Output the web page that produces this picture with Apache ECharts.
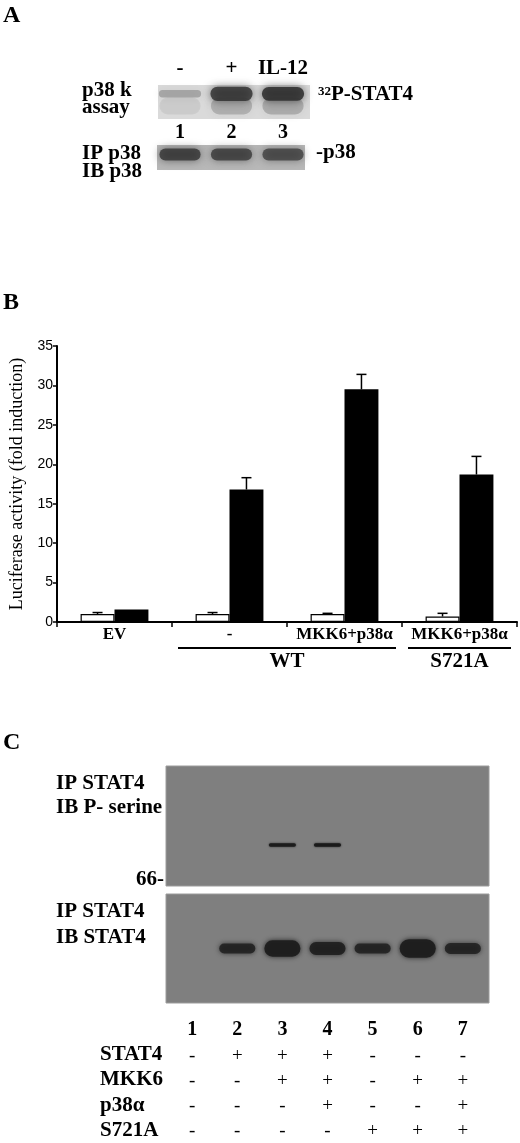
<!DOCTYPE html>
<html><head><meta charset="utf-8">
<script src="https://cdn.jsdelivr.net/npm/echarts@6/dist/echarts.min.js"></script>
<style>html,body{margin:0;padding:0;background:#fff}#c{width:520px;height:1143px}</style>
</head><body><div id="c"></div>
<script>
// ---- Panel B data ----
const categories = ['EV', '-', 'MKK6+p38α', 'MKK6+p38α'];
const controlValues = [1.0, 1.0, 1.0, 0.7];
const controlErrors = [0.2, 0.2, 0.1, 0.4];
const stat4Values = [1.6, 16.8, 29.5, 18.7];
const stat4Errors = [0, 1.5, 1.9, 2.3];
const yMin = 0, yMax = 35, yInterval = 5;
const groupNames = ['WT', 'S721A'];
const groupSpans = [[1, 2], [3, 3]];

// ---- Panel A data ----
const panelALanes = ['-', '+', 'IL-12'];
const panelALaneNumbers = ['1', '2', '3'];
const kinaseSignal = [0.28, 0.8, 0.85];
const kinaseThickness = [0.22, 0.42, 0.4];
const p38Signal = [0.8, 0.75, 0.7];

// ---- Panel C data ----
const panelCLaneNumbers = ['1', '2', '3', '4', '5', '6', '7'];
const pSerineSignal = [0, 0, 0.9, 0.95, 0, 0, 0];
const stat4BlotSignal = [0, 0.85, 0.95, 0.9, 0.85, 0.95, 0.85];
const stat4BandThickness = [0, 0.09, 0.15, 0.12, 0.09, 0.17, 0.10];
const tableRows = ['STAT4', 'MKK6', 'p38α', 'S721A'];
const tableSigns = [
  ['-', '+', '+', '+', '-', '-', '-'],
  ['-', '-', '+', '+', '-', '+', '+'],
  ['-', '-', '-', '+', '-', '-', '+'],
  ['-', '-', '-', '-', '+', '+', '+']
];

const SERIF = '"Liberation Serif", "Times New Roman", serif';
const B21 = 'bold 21px ' + SERIF;

function txt(text, x, y, font, align) {
  return { type: 'text', x: x, y: y, silent: true,
    style: { text: text, font: font, fill: '#000', align: align || 'left', verticalAlign: 'middle',
             textAlign: align || 'left', textVerticalAlign: 'middle' } };
}

function bandRenderer(pos, widthUnits, rgb, blur) {
  return function (params, api) {
    const lane = api.value(0), inten = api.value(1), thick = api.value(2);
    if (!inten) return;
    const c = api.coord([lane, pos]);
    const w = api.size([widthUnits, 0])[0];
    const h = api.size([0, thick])[1];
    return { type: 'rect',
      shape: { x: c[0] - w / 2, y: c[1] - h / 2, width: w, height: h, r: Math.min(h / 2, w / 2) },
      style: { fill: 'rgba(' + rgb + ',' + inten + ')', shadowBlur: blur, shadowColor: 'rgba(' + rgb + ',' + inten + ')' } };
  };
}

const chart = echarts.init(document.getElementById('c'), null, { renderer: 'canvas' });

const barFrac = (1 - 0.41) / 2;

const option = {
  animation: false,
  backgroundColor: '#fff',
  grid: [
    { left: 158, top: 85, width: 152, height: 34, show: true, backgroundColor: '#dadada', borderWidth: 0 },
    { left: 157, top: 145, width: 148, height: 25, show: true, backgroundColor: '#b8b8b8', borderWidth: 0 },
    { left: 55, top: 346, width: 462, height: 276 },
    { left: 166, top: 766, width: 323, height: 120, show: true, backgroundColor: '#7f7f7f', borderColor: '#9c9c9c', borderWidth: 1 },
    { left: 166, top: 894, width: 323, height: 109, show: true, backgroundColor: '#7f7f7f', borderColor: '#9c9c9c', borderWidth: 1 },
    { left: 166, top: 1017, width: 323, height: 127 }
  ],
  xAxis: [
    { gridIndex: 0, type: 'value', min: 0.573, max: 3.524, show: false },
    { gridIndex: 1, type: 'value', min: 0.553, max: 3.427, show: false },
    { gridIndex: 2, type: 'category', data: categories, boundaryGap: true,
      axisLine: { show: true, lineStyle: { color: '#000', width: 2 } },
      axisTick: { show: true, length: 5, lineStyle: { color: '#000', width: 1.5 } },
      axisLabel: { color: '#000', fontFamily: SERIF, fontWeight: 'bold', fontSize: 17, margin: 4, interval: 0 } },
    { gridIndex: 3, type: 'value', min: 0.42, max: 7.58, show: false },
    { gridIndex: 4, type: 'value', min: 0.42, max: 7.58, show: false },
    { gridIndex: 5, type: 'value', min: 0.42, max: 7.58, show: false }
  ],
  yAxis: [
    { gridIndex: 0, type: 'value', min: 0, max: 1, show: false },
    { gridIndex: 1, type: 'value', min: 0, max: 1, show: false },
    { gridIndex: 2, type: 'value', min: yMin, max: yMax, interval: yInterval,
      splitLine: { show: false },
      axisLine: { show: true, lineStyle: { color: '#000', width: 2 } },
      axisTick: { show: true, length: 4, lineStyle: { color: '#000', width: 1.5 } },
      axisLabel: { color: '#000', fontFamily: '"Liberation Sans", Arial, sans-serif', fontSize: 14, margin: 4 },
      name: 'Luciferase activity (fold induction)', nameLocation: 'middle', nameGap: 31,
      nameTextStyle: { color: '#000', fontFamily: SERIF, fontSize: 18 } },
    { gridIndex: 3, type: 'value', min: 0, max: 1, show: false },
    { gridIndex: 4, type: 'value', min: 0, max: 1, show: false },
    { gridIndex: 5, type: 'category', inverse: true, data: [''].concat(tableRows),
      axisLine: { show: false }, axisTick: { show: false },
      axisLabel: { interval: 0, align: 'left', margin: 66, color: '#000', fontFamily: SERIF, fontWeight: 'bold', fontSize: 21 } }
  ],
  series: [
    // Panel A kinase assay blot: smear + bands
    { type: 'custom', xAxisIndex: 0, yAxisIndex: 0, silent: true,
      renderItem: bandRenderer(0.38, 0.8, '80,80,80', 10),
      data: kinaseSignal.map((v, i) => [i + 1, v * 0.35, 0.5]) },
    { type: 'custom', xAxisIndex: 0, yAxisIndex: 0, silent: true,
      renderItem: bandRenderer(0.74, 0.82, '45,45,45', 9),
      data: kinaseSignal.map((v, i) => [i + 1, v, kinaseThickness[i]]) },
    // Panel A header and lane numbers
    { type: 'custom', xAxisIndex: 0, yAxisIndex: 0, silent: true,
      renderItem: function (params, api) {
        const top = api.coord([api.value(0), 1]);
        const bot = api.coord([api.value(0), 0]);
        const i = params.dataIndex;
        return { type: 'group', children: [
          { type: 'text', style: { text: panelALanes[i], x: top[0], y: top[1] - 16.5, font: B21, fill: '#000', align: 'center', verticalAlign: 'middle' } },
          { type: 'text', style: { text: panelALaneNumbers[i], x: bot[0], y: bot[1] + 14, font: 'bold 20px ' + SERIF, fill: '#000', align: 'center', verticalAlign: 'middle' } }
        ] };
      },
      data: panelALanes.map((v, i) => [i + 1, 0]) },
    // Panel A p38 blot
    { type: 'custom', xAxisIndex: 1, yAxisIndex: 1, silent: true,
      renderItem: bandRenderer(0.62, 0.8, '50,50,50', 8),
      data: p38Signal.map((v, i) => [i + 1, v, 0.48]) },

    // Panel B bars
    { type: 'bar', xAxisIndex: 2, yAxisIndex: 2, data: controlValues, barGap: '0%', barCategoryGap: '41%',
      itemStyle: { color: '#fff', borderColor: '#000', borderWidth: 1.2 } },
    { type: 'bar', xAxisIndex: 2, yAxisIndex: 2, data: stat4Values, barGap: '0%', barCategoryGap: '41%',
      itemStyle: { color: '#000' } },
    // error bars
    { type: 'custom', xAxisIndex: 2, yAxisIndex: 2, silent: true, z: 5,
      encode: { x: 0, y: 1 },
      renderItem: function (params, api) {
        const c = api.value(0), v = api.value(1), e = api.value(2), side = api.value(3);
        if (!e) return;
        const band = api.size([1, 0])[0];
        const bw = band * barFrac;
        const p0 = api.coord([c, v]);
        const p1 = api.coord([c, v + e]);
        const x = p0[0] + (side ? bw / 2 : -bw / 2);
        return { type: 'group', children: [
          { type: 'line', shape: { x1: x, y1: p0[1], x2: x, y2: p1[1] }, style: { stroke: '#000', lineWidth: 1.5 } },
          { type: 'line', shape: { x1: x - 5, y1: p1[1], x2: x + 5, y2: p1[1] }, style: { stroke: '#000', lineWidth: 1.5 } }
        ] };
      },
      data: controlValues.map((v, i) => [i, v, controlErrors[i], 0])
        .concat(stat4Values.map((v, i) => [i, v, stat4Errors[i], 1])) },
    // group brackets
    { type: 'custom', xAxisIndex: 2, yAxisIndex: 2, silent: true,
      encode: { x: [0, 1] },
      renderItem: function (params, api) {
        const band = api.size([1, 0])[0];
        const a = api.coord([api.value(0), 0]);
        const b = api.coord([api.value(1), 0]);
        const x1 = a[0] - band / 2 + 6, x2 = b[0] + band / 2 - 6;
        const y = a[1] + 26;
        return { type: 'group', children: [
          { type: 'line', shape: { x1: x1, y1: y, x2: x2, y2: y }, style: { stroke: '#000', lineWidth: 2 } },
          { type: 'text', style: { text: groupNames[params.dataIndex], x: (x1 + x2) / 2, y: y + 14, font: B21, fill: '#000', align: 'center', verticalAlign: 'middle' } }
        ] };
      },
      data: groupSpans.map(s => [s[0], s[1]]) },

    // Panel C P-serine blot
    { type: 'custom', xAxisIndex: 3, yAxisIndex: 3, silent: true,
      renderItem: bandRenderer(0.342, 0.6, '25,25,25', 2),
      data: pSerineSignal.map((v, i) => [i + 1, v, 0.03]) },
    // Panel C STAT4 blot
    { type: 'custom', xAxisIndex: 4, yAxisIndex: 4, silent: true,
      renderItem: bandRenderer(0.5, 0.8, '30,30,30', 5),
      data: stat4BlotSignal.map((v, i) => [i + 1, v, stat4BandThickness[i]]) },
    // Panel C lane numbers
    { type: 'custom', xAxisIndex: 5, yAxisIndex: 5, silent: true,
      renderItem: function (params, api) {
        const p = api.coord([api.value(0), api.value(1)]);
        return { type: 'text', style: { text: panelCLaneNumbers[params.dataIndex], x: p[0], y: p[1], font: 'bold 20px ' + SERIF, fill: '#000', align: 'center', verticalAlign: 'middle' } };
      },
      data: panelCLaneNumbers.map((v, i) => [i + 1, 0]) },
    // Panel C +/- table
    { type: 'custom', xAxisIndex: 5, yAxisIndex: 5, silent: true,
      renderItem: function (params, api) {
        const lane = api.value(0), row = api.value(1);
        const p = api.coord([lane, row]);
        const s = tableSigns[row - 1][lane - 1];
        return { type: 'text', style: { text: s, x: p[0], y: p[1] + 1, font: '19px ' + SERIF, fill: '#000', align: 'center', verticalAlign: 'middle' } };
      },
      data: [].concat.apply([], tableSigns.map((r, ri) => r.map((s, li) => [li + 1, ri + 1]))) }
  ],
  graphic: [
    txt('A', 3, 16, 'bold 24px ' + SERIF),
    txt('B', 3, 303, 'bold 24px ' + SERIF),
    txt('C', 3, 743, 'bold 24px ' + SERIF),
    txt('p38 k', 82, 91, B21),
    txt('assay', 82, 108, B21),
    txt('32', 318, 92, 'bold 13px ' + SERIF),
    txt('P-STAT4', 331, 95, B21),
    txt('IP p38', 82, 154, B21),
    txt('IB p38', 82, 172, B21),
    txt('-p38', 316, 153, B21),
    txt('IP STAT4', 56, 784, B21),
    txt('IB P- serine', 56, 808, B21),
    txt('66-', 164, 880, B21, 'right'),
    txt('IP STAT4', 56, 912, B21),
    txt('IB STAT4', 56, 938, B21)
  ]
};
chart.setOption(option);
</script>
</body></html>
